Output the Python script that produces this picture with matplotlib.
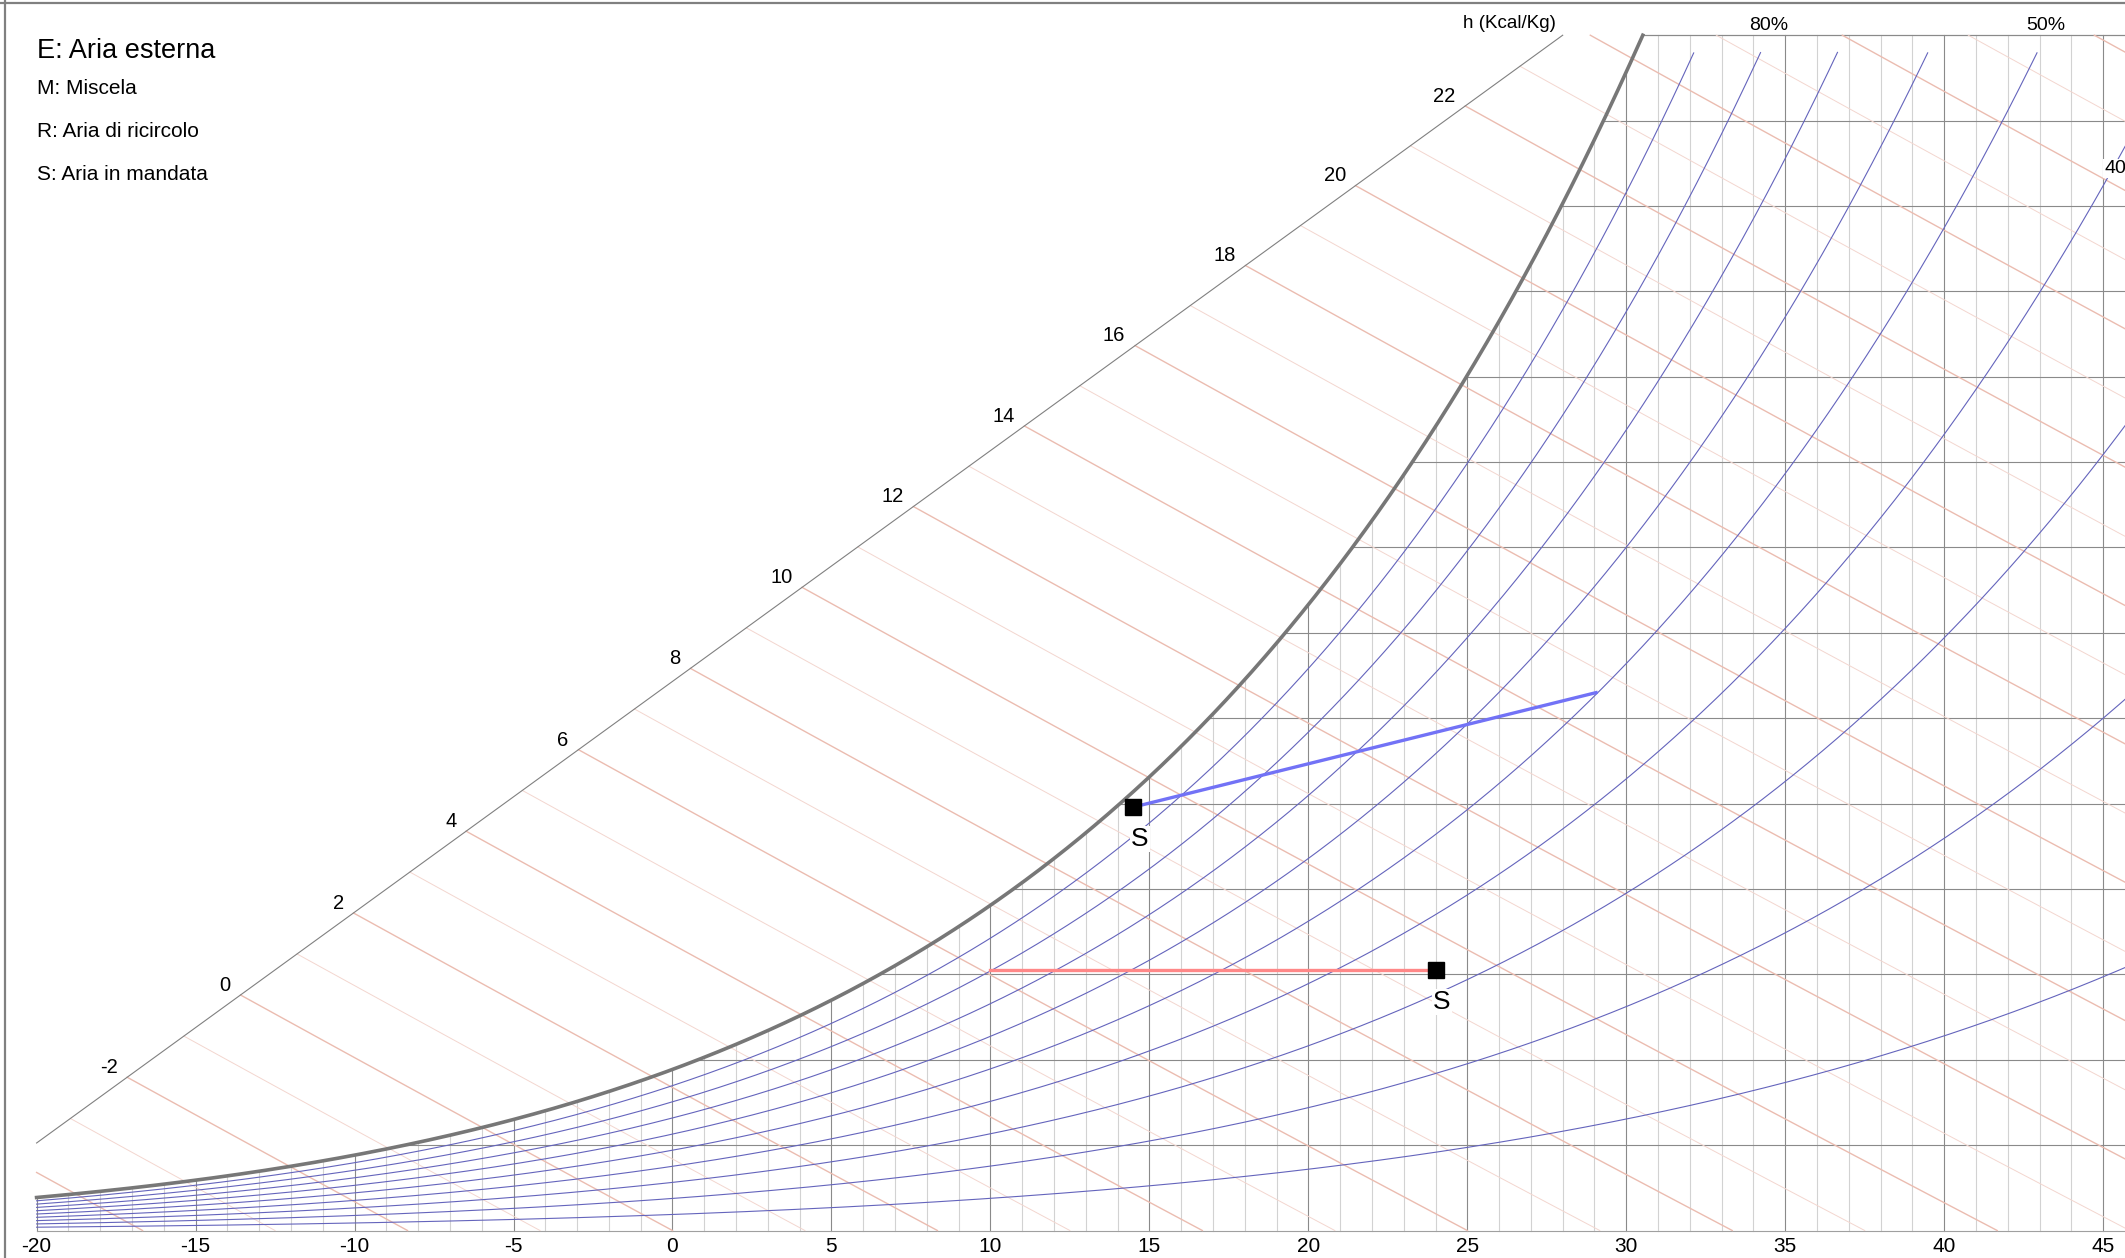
import numpy as np
import matplotlib
matplotlib.use("Agg")
import matplotlib.pyplot as plt
from matplotlib.lines import Line2D

plt.rcParams["font.family"] = ["Liberation Sans", "DejaVu Sans"]

P_ATM = 101325.0  # Pa
W_TOP = 28.0  # g/kg, bordo superiore del diagramma
T_EDGE = 45.7  # le linee arrivano fino al bordo della figura

temp_ticks = list(range(-20, 50, 5))
temp_grid = list(range(-20, 46))
w_grid = list(range(2, 30, 2))
rh_levels = [10, 20, 30, 40, 50, 60, 70, 80, 90]
rh_labels = [80, 50, 40]
enthalpy_lines = list(range(-4, 29))  # kcal/kg
enthalpy_labels = list(range(-2, 24, 2))

# scala delle entalpie (retta obliqua)
scale_t = [-20.0, 28.0]
scale_w = [2.05, 28.0]

legend_title = "E: Aria esterna"
legend_items = ["M: Miscela", "R: Aria di ricircolo", "S: Aria in mandata"]

# trasformazioni (T in °C, x in g/kg)
blue_t = [14.5, 29.05]
blue_w = [9.92, 12.6]
red_t = [10.0, 24.0]
red_w = [6.1, 6.1]
point_t = [14.5, 24.0]
point_w = [9.92, 6.1]
point_names = ["S", "S"]


def p_sat(t):
    return 610.94 * np.exp(17.625 * t / (t + 243.04))


def w_from_pv(pv):
    return 622.0 * pv / (P_ATM - pv)


def w_enthalpy(h, t):
    return 1000.0 * (h - 0.24 * t) / (597.0 + 0.44 * t)


fig = plt.figure(figsize=(21.25, 12.58), dpi=100)
ax = fig.add_axes([0, 0, 1, 1])
ax.set_xlim(-21.151, 45.686)
ax.set_ylim(-0.644, 28.825)
ax.axis("off")

T = np.linspace(-20, T_EDGE, 6000)
w_sat = w_from_pv(p_sat(T))

# griglia verticale (temperature) fino alla curva di saturazione
for t in temp_grid:
    top = min(w_from_pv(p_sat(t)), W_TOP)
    col = "#8a8a8a" if t % 5 == 0 else "#d2d2d2"
    ax.plot([t, t], [0, top], color=col, lw=0.8, zorder=1)

# griglia orizzontale (umidità assoluta) dalla saturazione a destra
for w in w_grid:
    t0 = np.interp(w, w_sat, T)
    ax.plot([t0, T_EDGE], [w, w], color="#8a8a8a", lw=0.8, zorder=1)
ax.plot([-20, T_EDGE], [0, 0], color="#a0a0a0", lw=0.8, zorder=1)

# linee di entalpia
upper = np.where(T <= scale_t[1], np.interp(T, scale_t, scale_w), W_TOP)
for h in enthalpy_lines:
    wh = w_enthalpy(h, T)
    f = wh - upper
    if wh[0] < 0:
        continue
    t_start = T[0] if f[0] <= 0 else np.interp(0, -f, T)
    t_end = min(h / 0.24, T_EDGE)
    if t_end <= t_start:
        continue
    tt = np.linspace(t_start, t_end, 50)
    if h % 2 == 0:
        ax.plot(tt, w_enthalpy(h, tt), color="#ebbcb0", lw=1.0, zorder=1.5)
    else:
        ax.plot(tt, w_enthalpy(h, tt), color="#f3d6cf", lw=0.7, zorder=1.5)
    if h in enthalpy_labels:
        ax.annotate(str(h), (t_start, w_enthalpy(h, t_start)), xytext=(-7, 3),
                    textcoords="offset points", ha="right", va="baseline",
                    fontsize=14.5)

ax.plot(scale_t, scale_w, color="#808080", lw=0.8, zorder=2)
ax.annotate("h (Kcal/Kg)", (scale_t[1], scale_w[1]), xytext=(-5, 5.5),
            textcoords="offset points", ha="right", va="baseline", fontsize=13.5)

# curve di umidità relativa
for rh in rh_levels:
    w_rh = w_from_pv(rh / 100 * p_sat(T))
    m = w_rh <= 27.6
    ax.plot(T[m], w_rh[m], color="#6464bc", lw=0.8, zorder=2)
    if rh in rh_labels:
        if w_rh[-1] > W_TOP:
            t28 = np.interp(W_TOP, w_rh, T)
            ax.text(t28, 28.13, f"{rh}%", ha="center", va="baseline", fontsize=14,
                    zorder=4)
        else:
            w45 = w_from_pv(rh / 100 * p_sat(45.0))
            ax.text(45.05, w45 + 0.3, f"{rh}%", ha="left", va="baseline",
                    fontsize=14, zorder=4,
                    bbox=dict(facecolor="white", edgecolor="none", pad=1))

m = w_sat <= W_TOP
t_top = np.interp(W_TOP, w_sat, T)
ax.plot(np.append(T[m], t_top), np.append(w_sat[m], W_TOP), color="#777777",
        lw=2.6, zorder=3)
ax.plot([t_top, T_EDGE], [W_TOP, W_TOP], color="#8a8a8a", lw=0.8, zorder=1)

# trasformazioni e punti
ax.plot(blue_t, blue_w, color="#7272f6", lw=2.4, zorder=5)
ax.plot(red_t, red_w, color="#ff8888", lw=2.4, zorder=5)
ax.plot(point_t, point_w, "s", color="black", ms=11, zorder=6)
for t, w, name in zip(point_t, point_w, point_names):
    ax.annotate(name, (t, w), xytext=(4.7, -23), textcoords="offset points",
                ha="center", va="center", fontsize=19, zorder=6,
                bbox=dict(facecolor="white", edgecolor="none", pad=1))

for t in temp_ticks:
    ax.annotate(str(t), (t, 0), xytext=(0, -5), textcoords="offset points",
                ha="center", va="top", fontsize=15)

# legenda in alto a sinistra
W_PX, H_PX = 2125.0, 1258.0
fig.text(37.3 / W_PX, 1 - 58.3 / H_PX, legend_title, fontsize=19.5, va="baseline")
for i, item in enumerate(legend_items):
    fig.text(37.3 / W_PX, 1 - (94.3 + 43 * i) / H_PX, item, fontsize=15,
             va="baseline")

# bordo sinistro e superiore
fig.add_artist(Line2D([5 / W_PX, 5 / W_PX], [0, 1], transform=fig.transFigure,
                      color="#808080", lw=1.6))
fig.add_artist(Line2D([0, 1], [1 - 2.5 / H_PX, 1 - 2.5 / H_PX],
                      transform=fig.transFigure, color="#808080", lw=1.6))

fig.savefig("out.png", dpi=100)
